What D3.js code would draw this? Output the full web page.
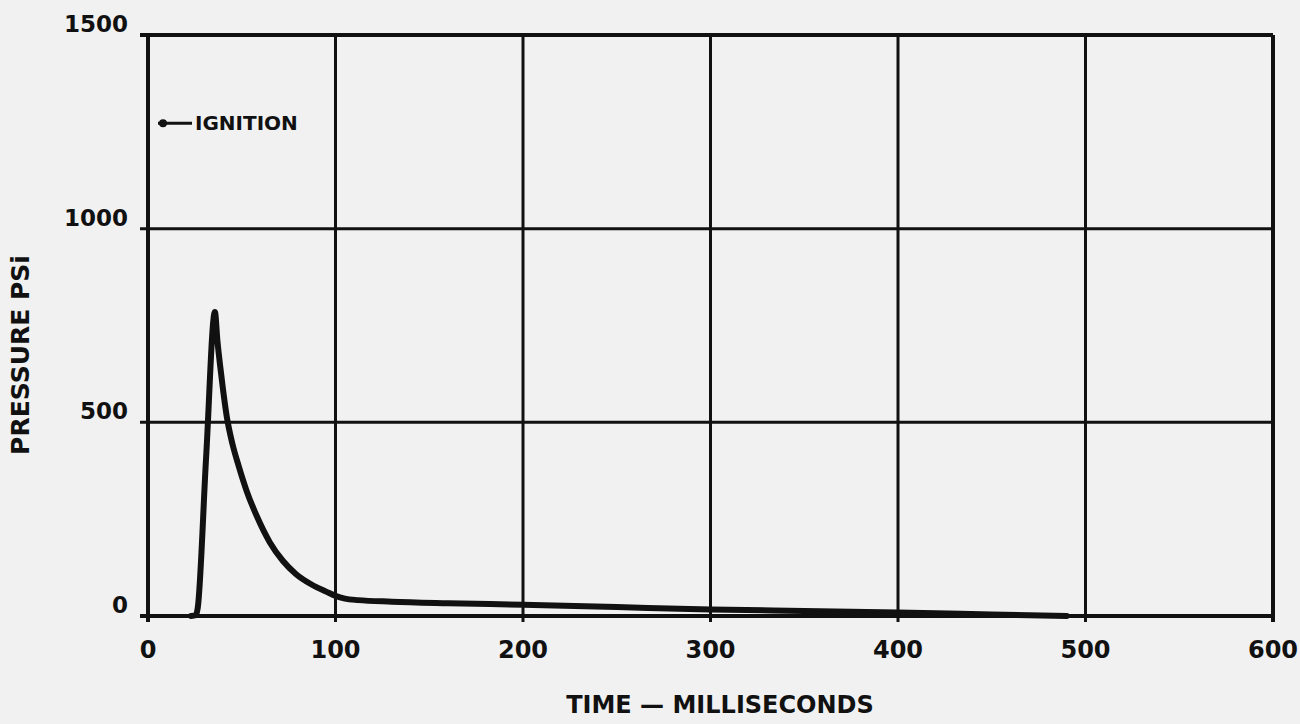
<!DOCTYPE html>
<html>
<head>
<meta charset="utf-8">
<script src="https://cdn.jsdelivr.net/npm/d3@7"></script>
<style>
  body { margin: 0; background: #f1f1f1; }
  svg { display: block; }
  text { font-family: "DejaVu Sans", sans-serif; font-weight: bold; fill: #111; }
</style>
</head>
<body>
<div class="graph"></div>
<script>
// pressure trace
const timeMs = [23, 25.5, 26.5, 31, 35.7, 37, 38.5, 40, 42, 45, 48.5, 52.6, 58, 65, 72, 79, 87, 95, 100, 105, 112, 130, 160, 200, 250, 300, 350, 400, 450, 490];
const pressurePsi = [0, 2, 20, 410, 785, 712, 645, 585, 515, 445, 385, 323, 258, 190, 142, 108, 82, 63, 52, 45, 41, 37, 33, 29, 23, 17, 13, 9, 4, 0];
const xTicks = [0, 100, 200, 300, 400, 500, 600];
const yTicks = [0, 500, 1000, 1500];
const ignitionPsi = 1272;

const svg = d3.select(".graph").append("svg").attr("width", 1300).attr("height", 724);
const margin = { left: 148, top: 35 };
const width = 1273 - 148;
const height = 616 - 35;
const g = svg.append("g").attr("transform", "translate(" + margin.left + "," + margin.top + ")");

const x = d3.scaleLinear().domain([0, 600]).range([0, width]);
const y = d3.scaleLinear().domain([0, 1500]).range([height, 0]);

// grid
g.selectAll(".vgrid").data(xTicks).enter().append("line")
  .attr("x1", d => x(d)).attr("x2", d => x(d))
  .attr("y1", 0).attr("y2", height + 6)
  .attr("stroke", "#111").attr("stroke-width", d => (d === 0 || d === 600) ? 4 : 3);
g.selectAll(".hgrid").data(yTicks).enter().append("line")
  .attr("x1", -8).attr("x2", width)
  .attr("y1", d => y(d)).attr("y2", d => y(d))
  .attr("stroke", "#111").attr("stroke-width", d => (d === 0 || d === 1500) ? 4 : 3);

// tick labels
g.selectAll(".ylab").data(yTicks).enter().append("text")
  .attr("x", -20).attr("y", d => y(d) - 3)
  .attr("text-anchor", "end")
  .style("font-size", "23px")
  .text(d => d);
g.selectAll(".xlab").data(xTicks).enter().append("text")
  .attr("x", d => x(d)).attr("y", height + 42)
  .attr("text-anchor", "middle")
  .style("font-size", "24px")
  .text(d => d);

// curve
const line = d3.line().x((d, i) => x(timeMs[i])).y(d => y(d)).curve(d3.curveMonotoneX);
g.append("path")
  .attr("d", line(pressurePsi))
  .attr("fill", "none").attr("stroke", "#111")
  .attr("stroke-width", 6).attr("stroke-linejoin", "round").attr("stroke-linecap", "round");

// ignition note
g.append("line").attr("x1", 10).attr("x2", 44)
  .attr("y1", y(ignitionPsi)).attr("y2", y(ignitionPsi))
  .attr("stroke", "#111").attr("stroke-width", 3);
g.append("circle").attr("cx", 15).attr("cy", y(ignitionPsi)).attr("r", 4).attr("fill", "#111");
g.append("text").attr("x", 47).attr("y", y(ignitionPsi) + 7)
  .style("font-size", "20px").text("IGNITION");

// axis titles
svg.append("text").attr("x", 720).attr("y", 713)
  .attr("text-anchor", "middle").style("font-size", "24px")
  .text("TIME \u2014 MILLISECONDS");
svg.append("text")
  .attr("transform", "translate(29,355) rotate(-90)")
  .attr("text-anchor", "middle").style("font-size", "25px")
  .text("PRESSURE PSi");
</script>
</body>
</html>
